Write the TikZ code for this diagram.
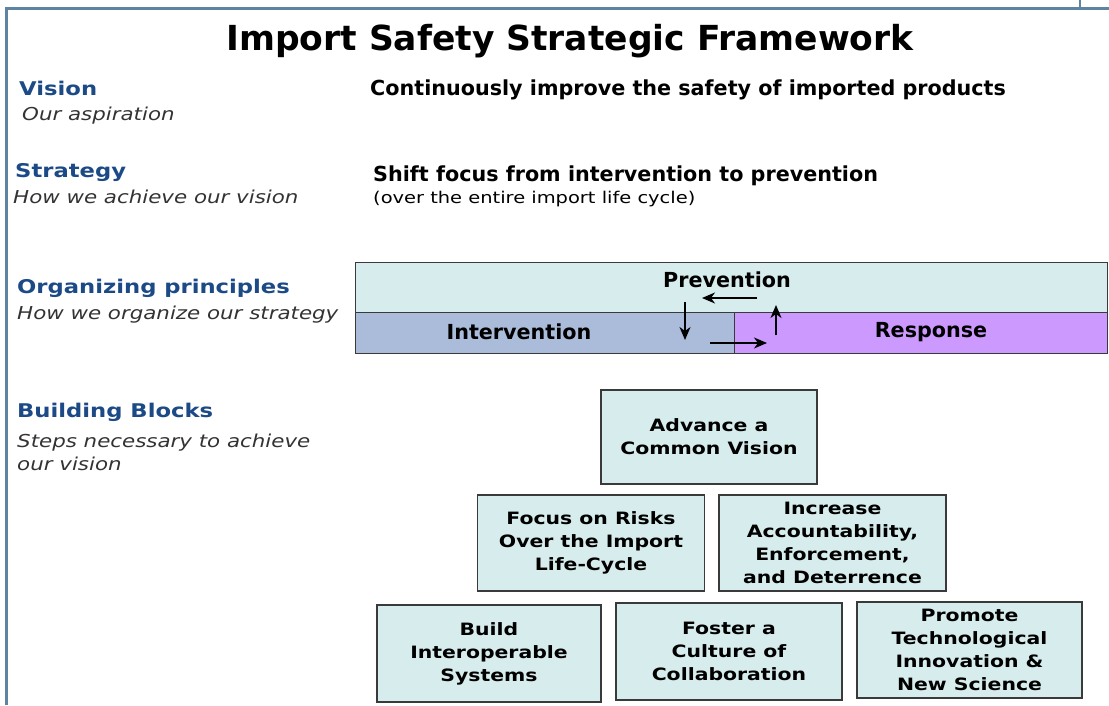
\documentclass[tikz,border=0pt]{standalone}
\usepackage{fontspec}
\setmainfont{DejaVu Sans}
\newfontfamily\widef{DejaVu Sans}[FakeStretch=1.2]
\newfontfamily\narrowf{DejaVu Sans}
\usetikzlibrary{arrows.meta}
\definecolor{framecol}{HTML}{5F84A2}
\definecolor{lblblue}{HTML}{1C4A86}
\definecolor{subgray}{HTML}{333333}
\definecolor{boxfill}{HTML}{D7ECEC}
\definecolor{boxline}{HTML}{3A3A3A}
\definecolor{intercol}{HTML}{ABBCDA}
\definecolor{respcol}{HTML}{CC99FF}
\tikzset{
  lbl/.style={anchor=base west, inner sep=0pt, text=lblblue, font=\widef\bfseries\fontsize{18.9}{22}\selectfont},
  sublbl/.style={anchor=base west, inner sep=0pt, text=subgray, font=\widef\itshape\fontsize{17.8}{21}\selectfont},
  stmt/.style={anchor=base west, inner sep=0pt, text=black, font=\narrowf\bfseries\fontsize{20.7}{24}\selectfont},
  block/.style={draw=boxline, line width=1.8pt, fill=boxfill, inner sep=0pt, align=center, text=black,
    font=\widef\bfseries\fontsize{17}{23}\selectfont},
  cell/.style={draw=boxline, line width=1pt, inner sep=0pt},
  celltxt/.style={inner sep=0pt, text=black, font=\narrowf\bfseries\fontsize{20.7}{24}\selectfont},
  flow/.style={line width=1.6pt, -{Stealth[length=13pt,width=11pt,inset=4pt]}}
}
\begin{document}
\begin{tikzpicture}[x=1pt,y=-1pt]
\useasboundingbox (0,0) rectangle (1109,705);
\fill[white] (0,0) rectangle (1109,705);
% frame
\draw[framecol, line width=2.5pt] (6.5,705) -- (6.5,8.5) -- (1109,8.5);
\draw[framecol, line width=2.5pt] (1080,0) -- (1080,8.5);
% title
\node[anchor=base, inner sep=0pt, font=\narrowf\bfseries\fontsize{34.5}{40}\selectfont] (title) at (570,50) {Import Safety Strategic Framework};
% left labels
\node[lbl] (vis) at (19,95) {Vision};
\node[sublbl] (visd) at (22,120) {Our aspiration};
\node[lbl] (str) at (15,177) {Strategy};
\node[sublbl] (strd) at (13,203) {How we achieve our vision};
\node[lbl] (org) at (17,293) {Organizing principles};
\node[sublbl] (orgd) at (17,319) {How we organize our strategy};
\node[lbl] (bb) at (17,417) {Building Blocks};
\node[sublbl] (bbd) at (17,447) {Steps necessary to achieve};
\node[sublbl] (bbd2) at (17,470) {our vision};
% statements
\node[stmt] (vstmt) at (370,95) {Continuously improve the safety of imported products};
\node[stmt] (sstmt) at (373,181) {Shift focus from intervention to prevention};
\node[anchor=base west, inner sep=0pt, font=\widef\fontsize{16.2}{20}\selectfont] (sstmt2) at (373,203) {(over the entire import life cycle)};
% organizing principles
\node[cell, fill=boxfill, minimum width=752pt, minimum height=50pt] (prev) at (731,287) {};
\node[cell, fill=intercol, minimum width=379pt, minimum height=41pt] (inter) at (544.5,332.5) {};
\node[cell, fill=respcol, minimum width=373pt, minimum height=41pt] (resp) at (920.5,332.5) {};
\node[celltxt] (prevt) at (727,280) {Prevention};
\node[celltxt] (intert) at (519,332) {Intervention};
\node[celltxt] (respt) at (931,332) {Response};
\coordinate (a1s) at (757,298); \coordinate (a1e) at (702,298);
\coordinate (a2s) at (685,302); \coordinate (a2e) at (685,340);
\coordinate (a3s) at (710,343); \coordinate (a3e) at (767,343);
\coordinate (a4s) at (776,335); \coordinate (a4e) at (776,305);
\draw[flow] (a1s) -- (a1e);
\draw[flow] (a2s) -- (a2e);
\draw[flow] (a3s) -- (a3e);
\draw[flow] (a4s) -- (a4e);
% building blocks
\node[block, minimum width=216pt, minimum height=94pt] (b1) at (709,437) {Advance a\\Common Vision};
\node[block, minimum width=227pt, minimum height=96pt] (b2) at (591,543) {Focus on Risks\\Over the Import\\Life-Cycle};
\node[block, minimum width=227pt, minimum height=96pt] (b3) at (832.5,543) {Increase\\Accountability,\\Enforcement,\\and Deterrence};
\node[block, minimum width=224pt, minimum height=97pt] (b4) at (489,653.5) {Build\\Interoperable\\Systems};
\node[block, minimum width=226pt, minimum height=97pt] (b5) at (729,651.5) {Foster a\\Culture of\\Collaboration};
\node[block, minimum width=225pt, minimum height=96pt] (b6) at (969.5,650) {Promote\\Technological\\Innovation \&\\New Science};
\end{tikzpicture}
\end{document}
